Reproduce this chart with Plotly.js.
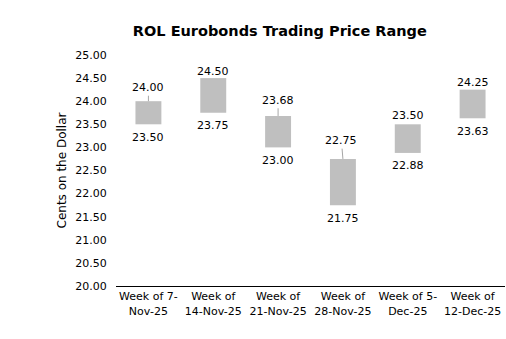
<!DOCTYPE html>
<html>
<head>
<meta charset="utf-8">
<script src="https://cdn.plot.ly/plotly-3.0.1.min.js"></script>
<style>html,body{margin:0;padding:0;background:#fff;}#chart{width:506px;height:339px;}</style>
</head>
<body>
<div id="chart"></div>
<script>
// Data
var categories = ["Week of 7-Nov-25", "Week of 14-Nov-25", "Week of 21-Nov-25", "Week of 28-Nov-25", "Week of 5-Dec-25", "Week of 12-Dec-25"];
var tickLabels = ["Week of 7-<br>Nov-25", "Week of<br>14-Nov-25", "Week of<br>21-Nov-25", "Week of<br>28-Nov-25", "Week of 5-<br>Dec-25", "Week of<br>12-Dec-25"];
var highs = [24.00, 24.50, 23.68, 22.75, 23.50, 24.25];
var lows = [23.50, 23.75, 23.00, 21.75, 22.88, 23.63];

// Label layout (pixel offsets, not data)
var highOffset = [-13.5, -7, -15.7, -18.3, -9, -6.7];
var highDx = [0, 0, 0, -1.5, 0, 0];
var highLeader = [true, false, true, true, false, false];

var font = "Verdana, 'DejaVu Sans', sans-serif";

var trace = {
  type: 'bar',
  x: categories,
  base: lows,
  y: highs.map(function(h, i){ return h - lows[i]; }),
  width: 0.4,
  marker: {color: '#bfbfbf'},
  hoverinfo: 'skip'
};

var annotations = [];
categories.forEach(function(c, i){
  annotations.push({
    x: c, y: highs[i], xref: 'x', yref: 'y',
    text: highs[i].toFixed(2),
    showarrow: highLeader[i],
    arrowhead: 0, arrowwidth: 1, arrowcolor: '#a6a6a6', standoff: 0,
    ax: highDx[i], ay: highOffset[i],
    yshift: highLeader[i] ? 0 : -highOffset[i],
    font: {family: font, size: 11, color: '#000'}
  });
  annotations.push({
    x: c, y: lows[i], xref: 'x', yref: 'y',
    text: lows[i].toFixed(2),
    showarrow: false,
    yshift: -13,
    font: {family: font, size: 11, color: '#000'}
  });
});

var layout = {
  width: 506, height: 339,
  margin: {l: 116, r: 1, t: 55, b: 53},
  paper_bgcolor: '#fff', plot_bgcolor: '#fff',
  showlegend: false,
  title: {text: '<b>ROL Eurobonds Trading Price Range</b>', font: {family: font, size: 14.5, color: '#000'}, x: 0.553, xanchor: 'center', y: 0.91, yanchor: 'middle'},
  xaxis: {
    type: 'category',
    tickvals: categories, ticktext: tickLabels,
    showline: true, linecolor: '#000', linewidth: 1,
    ticks: '', showgrid: false, zeroline: false,
    tickfont: {family: font, size: 11, color: '#000'}
  },
  yaxis: {
    range: [20, 25], dtick: 0.5, tick0: 20, tickformat: '.2f',
    showline: false, showgrid: false, zeroline: false,
    ticks: 'outside', ticklen: 6, tickcolor: 'rgba(0,0,0,0)',
    tickfont: {family: font, size: 11, color: '#000'},
    title: {text: 'Cents on the Dollar', font: {family: font, size: 12, color: '#000'}, standoff: 6}
  },
  annotations: annotations
};

Plotly.newPlot('chart', [trace], layout, {displayModeBar: false, staticPlot: true});
</script>
</body>
</html>
